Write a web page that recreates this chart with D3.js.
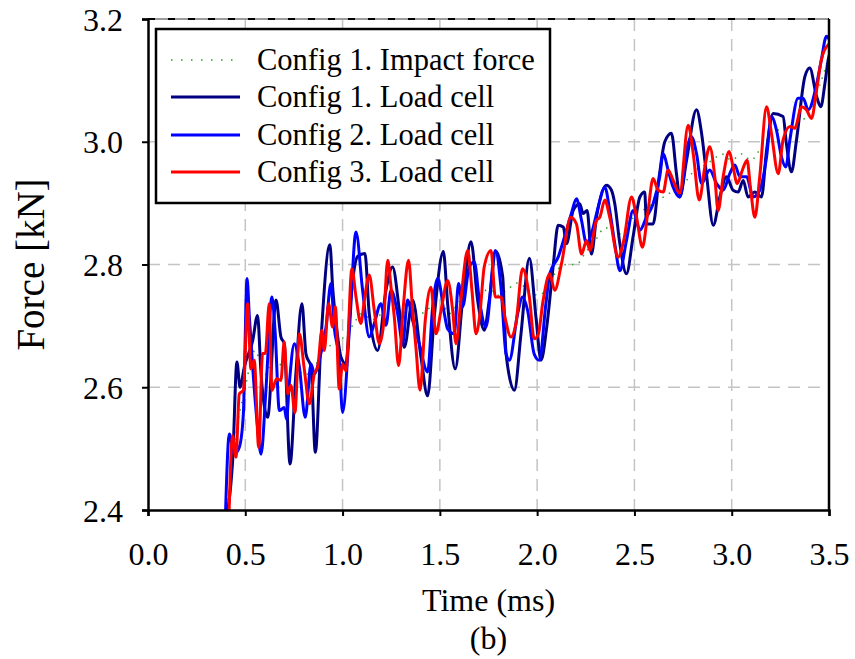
<!DOCTYPE html>
<html><head><meta charset="utf-8">
<script src="https://cdnjs.cloudflare.com/ajax/libs/d3/7.8.5/d3.min.js"></script>
<style>
html,body{margin:0;padding:0;background:#fff;}
text{font-family:"Liberation Serif","Times New Roman",serif;fill:#000;}
</style></head>
<body><svg id="c" width="855" height="659"></svg>
<script>
// ---- data ----
const xTicks = [0.0, 0.5, 1.0, 1.5, 2.0, 2.5, 3.0, 3.5];
const yTicks = [2.4, 2.6, 2.8, 3.0, 3.2];
const seriesNames = ["Config 1. Impact force", "Config 1. Load cell", "Config 2. Load cell", "Config 3. Load cell"];

const impactT = [0.40,0.45,0.50,0.55,0.60,0.65,0.70,0.75,0.80,0.85,0.90,0.95,1.00,1.05,1.10,1.15,1.20,1.25,1.30,1.35,1.40,1.45,1.50,1.55,1.60,1.65,1.70,1.75,1.80,1.85,1.90,1.95,2.00,2.05,2.10,2.15,2.20,2.25,2.30,2.35,2.40,2.45,2.50,2.55,2.60,2.65,2.70,2.75,2.80,2.85,2.90,2.95,3.00,3.05,3.10,3.15,3.20,3.25,3.30,3.35,3.40,3.45,3.50];
const impactF = [2.38,2.52,2.60,2.66,2.62,2.65,2.63,2.64,2.62,2.63,2.66,2.67,2.68,2.70,2.72,2.71,2.72,2.74,2.72,2.73,2.72,2.73,2.74,2.72,2.74,2.75,2.75,2.76,2.75,2.76,2.77,2.76,2.75,2.76,2.79,2.80,2.80,2.82,2.84,2.86,2.85,2.85,2.88,2.89,2.90,2.91,2.92,2.93,2.95,2.96,2.97,2.98,2.97,2.98,2.97,2.99,3.01,3.02,3.02,3.03,3.05,3.09,3.14];

const cfg1T = [0.395,0.435,0.457,0.473,0.495,0.538,0.563,0.581,0.615,0.658,0.683,0.700,0.730,0.760,0.791,0.812,0.838,0.860,0.889,0.935,0.949,0.969,0.992,1.017,1.043,1.077,1.115,1.137,1.180,1.223,1.257,1.292,1.317,1.360,1.403,1.437,1.471,1.518,1.540,1.579,1.617,1.660,1.694,1.728,1.754,1.788,1.823,1.840,1.883,1.917,1.960,1.994,2.020,2.050,2.082,2.108,2.134,2.151,2.185,2.219,2.236,2.257,2.279,2.305,2.356,2.382,2.399,2.425,2.459,2.493,2.528,2.553,2.562,2.596,2.627,2.656,2.690,2.716,2.733,2.768,2.819,2.845,2.870,2.905,2.939,2.973,3.007,3.033,3.059,3.084,3.119,3.153,3.179,3.213,3.264,3.281,3.307,3.333,3.376,3.401,3.436,3.458,3.479,3.496,3.510];
const cfg1F = [2.38,2.480,2.641,2.600,2.633,2.676,2.717,2.622,2.551,2.742,2.682,2.671,2.475,2.622,2.736,2.654,2.633,2.494,2.676,2.832,2.763,2.698,2.649,2.638,2.747,2.813,2.818,2.720,2.660,2.758,2.796,2.725,2.665,2.742,2.649,2.586,2.714,2.821,2.736,2.630,2.742,2.837,2.742,2.693,2.742,2.821,2.780,2.655,2.595,2.687,2.810,2.714,2.644,2.700,2.796,2.864,2.861,2.834,2.888,2.899,2.883,2.888,2.817,2.877,2.929,2.921,2.899,2.834,2.785,2.845,2.910,2.918,2.866,2.866,2.943,3.000,3.014,2.948,2.910,2.970,3.052,3.014,2.948,2.864,2.910,2.943,2.921,2.918,2.937,2.910,2.918,2.910,2.986,3.046,3.041,2.997,2.951,3.003,3.106,3.120,3.074,3.057,3.095,3.134,3.150];

const cfg2T = [0.397,0.418,0.443,0.469,0.490,0.509,0.521,0.538,0.563,0.581,0.606,0.637,0.654,0.675,0.700,0.712,0.726,0.752,0.778,0.808,0.838,0.855,0.880,0.915,0.940,0.957,0.983,1.000,1.035,1.069,1.103,1.137,1.163,1.197,1.223,1.249,1.283,1.309,1.334,1.360,1.394,1.437,1.463,1.489,1.523,1.540,1.574,1.596,1.617,1.651,1.677,1.703,1.737,1.785,1.814,1.840,1.857,1.900,1.925,1.951,1.985,2.011,2.045,2.065,2.108,2.151,2.176,2.202,2.228,2.254,2.284,2.314,2.348,2.373,2.399,2.425,2.459,2.493,2.528,2.562,2.596,2.630,2.648,2.673,2.699,2.733,2.776,2.793,2.819,2.845,2.887,2.922,2.956,2.990,3.016,3.042,3.076,3.110,3.144,3.179,3.204,3.230,3.256,3.278,3.299,3.341,3.367,3.393,3.436,3.461,3.487,3.510];
const cfg2F = [2.38,2.524,2.491,2.502,2.556,2.777,2.714,2.633,2.535,2.491,2.595,2.747,2.687,2.562,2.567,2.548,2.605,2.671,2.633,2.551,2.638,2.622,2.644,2.698,2.769,2.698,2.644,2.559,2.693,2.853,2.758,2.682,2.704,2.736,2.701,2.758,2.720,2.671,2.742,2.709,2.671,2.625,2.731,2.777,2.720,2.695,2.687,2.769,2.731,2.796,2.804,2.742,2.698,2.823,2.763,2.655,2.644,2.720,2.747,2.725,2.654,2.644,2.736,2.785,2.812,2.856,2.883,2.907,2.872,2.834,2.856,2.894,2.926,2.888,2.834,2.790,2.839,2.888,2.856,2.877,2.899,2.943,2.981,2.954,2.926,2.910,2.997,3.008,2.981,2.932,2.954,2.932,2.921,2.948,2.962,2.943,2.943,2.910,2.921,2.975,3.041,3.019,2.975,2.959,3.003,3.071,3.071,3.052,3.093,3.134,3.172,3.160];

const cfg3T = [0.415,0.435,0.452,0.469,0.490,0.512,0.529,0.546,0.569,0.589,0.603,0.623,0.637,0.661,0.683,0.700,0.718,0.735,0.755,0.778,0.803,0.829,0.855,0.872,0.894,0.906,0.928,0.949,0.963,0.983,1.000,1.017,1.048,1.069,1.094,1.112,1.137,1.163,1.189,1.209,1.232,1.249,1.266,1.288,1.312,1.339,1.360,1.377,1.398,1.425,1.454,1.480,1.506,1.540,1.566,1.583,1.608,1.643,1.665,1.686,1.706,1.728,1.763,1.785,1.814,1.836,1.865,1.891,1.925,1.960,1.985,2.005,2.030,2.065,2.090,2.125,2.173,2.202,2.228,2.254,2.271,2.305,2.322,2.348,2.373,2.416,2.445,2.485,2.511,2.541,2.570,2.596,2.622,2.648,2.673,2.699,2.733,2.776,2.802,2.833,2.862,2.887,2.913,2.930,2.956,2.987,3.007,3.028,3.055,3.079,3.096,3.119,3.144,3.179,3.204,3.239,3.264,3.299,3.324,3.359,3.384,3.410,3.436,3.461,3.496,3.510];
const cfg3F = [2.38,2.521,2.486,2.589,2.595,2.736,2.630,2.644,2.502,2.655,2.655,2.736,2.595,2.614,2.611,2.674,2.589,2.603,2.559,2.687,2.630,2.573,2.622,2.633,2.693,2.660,2.736,2.698,2.731,2.597,2.638,2.627,2.793,2.747,2.704,2.742,2.783,2.725,2.671,2.698,2.807,2.763,2.714,2.635,2.731,2.807,2.725,2.665,2.595,2.709,2.763,2.687,2.725,2.774,2.725,2.671,2.742,2.823,2.758,2.687,2.720,2.796,2.823,2.747,2.747,2.712,2.682,2.704,2.793,2.747,2.679,2.685,2.740,2.785,2.758,2.801,2.877,2.866,2.817,2.839,2.823,2.872,2.877,2.905,2.877,2.812,2.839,2.910,2.877,2.828,2.888,2.940,2.921,2.918,2.954,2.937,2.916,3.027,2.981,2.905,2.959,2.992,2.943,2.888,2.943,2.984,2.959,2.932,2.954,2.970,2.926,2.877,2.943,3.057,3.014,2.948,3.003,3.025,3.022,3.057,3.052,3.038,3.084,3.134,3.158,3.160];

// ---- layout ----
const svg = d3.select("#c");
const L = 148, R = 829, T = 19, B = 510;
const x = d3.scaleLinear().domain([0, 3.5]).range([L, R]);
const y = d3.scaleLinear().domain([2.4, 3.2]).range([B, T]);
const serif = '"Liberation Serif","Times New Roman",serif';

svg.append("defs").append("clipPath").attr("id","clip")
  .append("rect").attr("x",L).attr("y",T).attr("width",R-L).attr("height",B-T);

// grid
const grid = svg.append("g");
grid.selectAll(".vg").data(xTicks.filter(d=>d>0 && d<3.5)).join("line")
  .attr("x1",d=>x(d)).attr("x2",d=>x(d)).attr("y1",T).attr("y2",B)
  .attr("stroke","#c4c4c4").attr("stroke-width",1.5).attr("stroke-dasharray","12,8");
grid.selectAll(".hg").data(yTicks.filter(d=>d>2.4 && d<3.2)).join("line")
  .attr("x1",L).attr("x2",R).attr("y1",d=>y(d)).attr("y2",d=>y(d))
  .attr("stroke","#c4c4c4").attr("stroke-width",1.5).attr("stroke-dasharray","12,8");
// top edge (gridline at 3.2)
svg.append("line").attr("x1",L).attr("x2",R).attr("y1",y(3.2)).attr("y2",y(3.2))
  .attr("stroke","#9a9a9a").attr("stroke-width",2);
svg.append("line").attr("x1",L).attr("x2",R).attr("y1",y(3.2)).attr("y2",y(3.2))
  .attr("stroke","#000").attr("stroke-width",2).attr("stroke-dasharray","7,13");

// lines
const mk = (T_, F_) => T_.map((t,i)=>[t, F_[i]]);
const line = d3.line().x(d=>x(d[0])).y(d=>y(d[1])).curve(d3.curveMonotoneX);
const plot = svg.append("g").attr("clip-path","url(#clip)");
plot.append("path").datum(mk(impactT, impactF)).attr("d", line)
  .attr("fill","none").attr("stroke","#2ea02e").attr("stroke-width",1.5).attr("stroke-dasharray","1.5,6");
plot.append("path").datum(mk(cfg1T, cfg1F)).attr("d", line)
  .attr("fill","none").attr("stroke","#000080").attr("stroke-width",3).attr("stroke-linejoin","round");
plot.append("path").datum(mk(cfg2T, cfg2F)).attr("d", line)
  .attr("fill","none").attr("stroke","#0000ff").attr("stroke-width",3).attr("stroke-linejoin","round");
plot.append("path").datum(mk(cfg3T, cfg3F)).attr("d", line)
  .attr("fill","none").attr("stroke","#ff0000").attr("stroke-width",3).attr("stroke-linejoin","round");

// axes
const xAxis = svg.append("g").attr("transform",`translate(0,${B})`)
  .call(d3.axisBottom(x).tickValues(xTicks).tickSize(6).tickFormat(d3.format(".1f")));
const yAxis = svg.append("g").attr("transform",`translate(${L},0)`)
  .call(d3.axisLeft(y).tickValues(yTicks).tickSize(6).tickFormat(d3.format(".1f")));
[xAxis, yAxis].forEach(a=>{
  a.select(".domain").attr("stroke","#000").attr("stroke-width",2.5);
  a.selectAll(".tick line").attr("stroke","#000").attr("stroke-width",2);
  a.selectAll(".tick text").attr("font-family",serif).attr("font-size",32).attr("fill","#000");
});
xAxis.selectAll(".tick text").attr("y",null).attr("dy",null).attr("dominant-baseline",null)
  .attr("transform","translate(0,55)");
yAxis.selectAll(".tick text").attr("x",-25).attr("dy","0.35em");
// right border
svg.append("line").attr("x1",R).attr("x2",R).attr("y1",T).attr("y2",B)
  .attr("stroke","#000").attr("stroke-width",2.5);

// axis titles
svg.append("text").attr("x",(L+R)/2).attr("y",611).attr("text-anchor","middle")
  .attr("font-size",32).text("Time (ms)");
svg.append("text").attr("transform",`translate(44,${(T+B)/2}) rotate(-90)`).attr("text-anchor","middle")
  .attr("font-size",39).text("Force [kN]");
svg.append("text").attr("x",(L+R)/2).attr("y",649).attr("text-anchor","middle")
  .attr("font-size",32).text("(b)");

// legend
const lg = svg.append("g");
lg.append("rect").attr("x",156).attr("y",29).attr("width",394).attr("height",174)
  .attr("fill","#fff").attr("stroke","#000").attr("stroke-width",2.5);
const legColors = ["#2ea02e","#000080","#0000ff","#ff0000"];
const rowY = [60, 97, 135, 172];
seriesNames.forEach((n,i)=>{
  const ln = lg.append("line").attr("x1",171).attr("x2",240).attr("y1",rowY[i]).attr("y2",rowY[i])
    .attr("stroke",legColors[i]).attr("stroke-width", i===0?1.5:3);
  if(i===0) ln.attr("stroke-dasharray","1.5,8.5");
  lg.append("text").attr("x",257).attr("y",rowY[i]+10).attr("font-size",30.5).text(n);
});
</script></body></html>
